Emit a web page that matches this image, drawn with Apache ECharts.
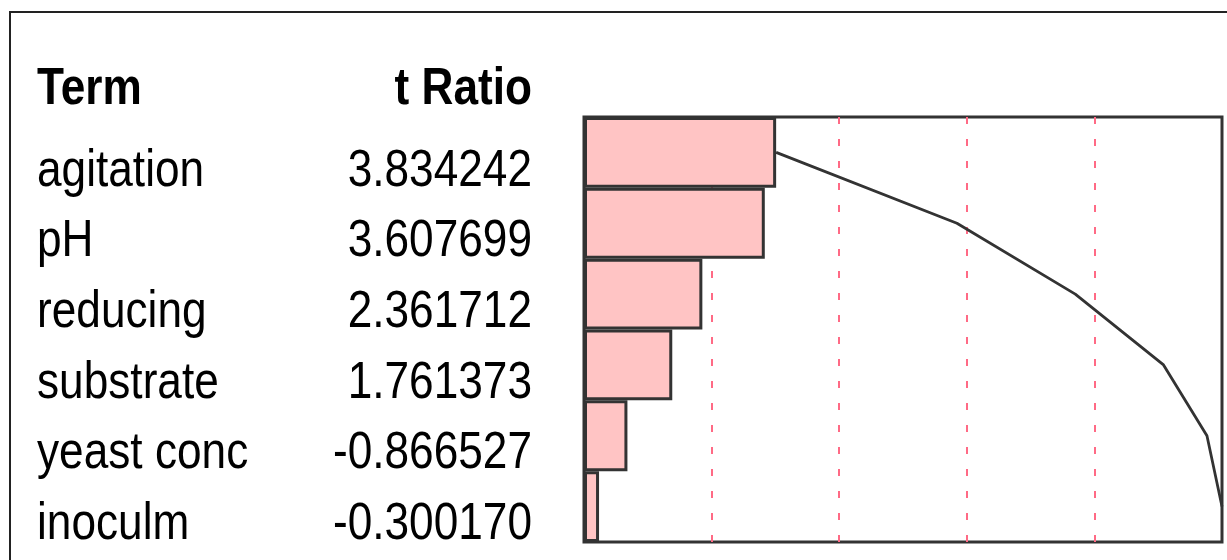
<!DOCTYPE html>
<html>
<head>
<meta charset="utf-8">
<script src="https://cdn.jsdelivr.net/npm/echarts@6/dist/echarts.min.js"></script>
<style>
  html, body { margin: 0; padding: 0; background: #fff; }
  #chart { width: 1227px; height: 560px; }
</style>
</head>
<body>
<div id="chart"></div>
<script>
// Effect terms, ordered by absolute t ratio
const terms = ['agitation', 'pH', 'reducing', 'substrate', 'yeast conc', 'inoculm'];
const tRatios = [3.834242, 3.607699, 2.361712, 1.761373, -0.866527, -0.300170];

const absT = tRatios.map(v => Math.abs(v));
const cumulative = [];
absT.reduce((acc, v) => { const s = acc + v; cumulative.push(s); return s; }, 0);
const total = cumulative[cumulative.length - 1];

// condensed sans look: Liberation Sans squeezed horizontally
const FONT = '52px "Liberation Sans", Arial, sans-serif';
const FONT_BOLD = 'bold 52px "Liberation Sans", Arial, sans-serif';
const SQUEEZE = 0.85;
const TERM_X = 37;      // left edge of the Term column
const VALUE_X = 532;    // right edge of the t Ratio column

const chart = echarts.init(document.getElementById('chart'), null, { renderer: 'canvas' });

chart.setOption({
  animation: false,
  backgroundColor: '#ffffff',
  grid: [
    { // Pareto plot
      left: 584, top: 117, right: 5, bottom: 18,
      show: true, borderColor: '#333333', borderWidth: 3, backgroundColor: 'transparent',
      containLabel: false
    },
    { // term / t ratio table rows
      left: 0, right: 0, top: 136, height: 425,
      show: false, containLabel: false
    }
  ],
  xAxis: [
    {
      gridIndex: 0, type: 'value', min: 0, max: total, interval: total / 5,
      axisLine: { show: false }, axisTick: { show: false }, axisLabel: { show: false },
      splitLine: {
        show: true, showMinLine: false, showMaxLine: false,
        lineStyle: { color: '#FF6A85', width: 2, type: [7, 15] }
      }
    },
    { gridIndex: 1, type: 'value', min: 0, max: 1, show: false }
  ],
  yAxis: [
    {
      gridIndex: 0, type: 'category', data: terms, inverse: true,
      axisLine: { show: false }, axisTick: { show: false }, axisLabel: { show: false },
      splitLine: { show: false }
    },
    {
      gridIndex: 1, type: 'category', data: terms, inverse: true, show: false
    }
  ],
  graphic: [
    { // outer report frame
      type: 'rect', z: -1, silent: true,
      shape: { x: 10, y: 12, width: 1400, height: 700 },
      style: { fill: 'none', stroke: '#222', lineWidth: 2 }
    },
    {
      type: 'text', x: TERM_X, y: 90, scaleX: SQUEEZE,
      style: { text: 'Term', font: FONT_BOLD, fill: '#000', verticalAlign: 'middle' }
    },
    {
      type: 'text', x: VALUE_X, y: 90, scaleX: SQUEEZE,
      style: { text: 't Ratio', font: FONT_BOLD, fill: '#000', align: 'right', verticalAlign: 'middle' }
    }
  ],
  series: [
    {
      type: 'bar', xAxisIndex: 0, yAxisIndex: 0,
      data: absT, barCategoryGap: 0, barGap: 0, z: 3,
      itemStyle: { color: '#FFC4C4', borderColor: '#333333', borderWidth: 3 }
    },
    {
      type: 'line', xAxisIndex: 0, yAxisIndex: 0,
      data: cumulative, symbol: 'none', z: 4,
      lineStyle: { color: '#333333', width: 2.8 }
    },
    { // table rows: term name and its t ratio
      type: 'custom', xAxisIndex: 1, yAxisIndex: 1, clip: false,
      data: terms.map((t, i) => [i, tRatios[i]]),
      renderItem: (params, api) => {
        const idx = api.value(0);
        const y = api.coord([0, idx])[1];
        return {
          type: 'group',
          children: [
            {
              type: 'text', x: TERM_X, y: y, scaleX: SQUEEZE,
              style: { text: terms[idx], font: FONT, fill: '#000', align: 'left', verticalAlign: 'middle' }
            },
            {
              type: 'text', x: VALUE_X, y: y, scaleX: SQUEEZE,
              style: { text: api.value(1).toFixed(6), font: FONT, fill: '#000', align: 'right', verticalAlign: 'middle' }
            }
          ]
        };
      }
    }
  ]
});
</script>
</body>
</html>
